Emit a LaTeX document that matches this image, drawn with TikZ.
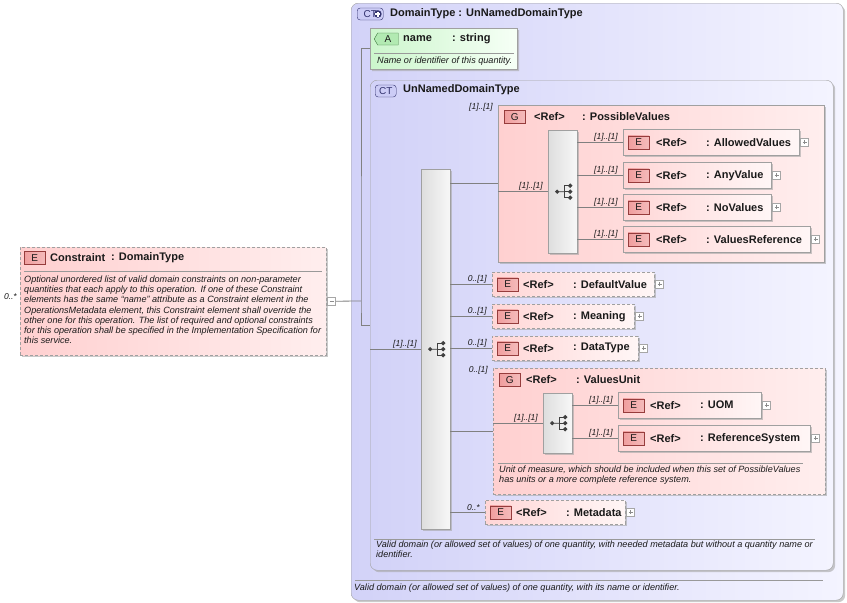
\documentclass[tikz,border=0pt]{standalone}
\usepackage{fontspec}
\setmainfont{Liberation Sans}
\usetikzlibrary{positioning,shadows,shapes.misc,shapes.symbols}

\definecolor{ctleft}{RGB}{210,210,248}
\definecolor{ctright}{RGB}{244,244,255}
\definecolor{elleft}{RGB}{255,214,214}
\definecolor{elright}{RGB}{255,246,246}
\definecolor{grleft}{RGB}{255,208,208}
\definecolor{grright}{RGB}{255,238,238}
\definecolor{atleft}{RGB}{204,246,204}
\definecolor{atright}{RGB}{246,255,246}
\definecolor{ebadge}{RGB}{240,158,158}
\definecolor{ebadgeline}{RGB}{150,60,60}
\definecolor{ctbadge}{RGB}{204,204,246}
\definecolor{ctbadgeline}{RGB}{50,50,110}
\definecolor{abadge}{RGB}{178,234,178}
\definecolor{abadgeline}{RGB}{60,120,60}
\definecolor{boxline}{RGB}{160,160,160}
\definecolor{wireline}{RGB}{128,128,128}
\definecolor{textcol}{RGB}{26,26,26}

\begin{document}
\begin{tikzpicture}
[x=1pt,y=-1pt,
  shadowdecorate/.style={drop shadow={shadow xshift=2pt,shadow yshift=-2pt,fill=black!35,opacity=0.6}},%
  ctdecorate/.style={anchor=north west,inner sep=0,rounded corners=7pt,draw=boxline,
    left color=ctleft,right color=ctright,shadowdecorate},%
  attrdecorate/.style={anchor=north west,inner sep=0,chamfered rectangle,
    chamfered rectangle corners={north west,south west},chamfered rectangle xsep=4pt,
    chamfered rectangle ysep=4pt,draw=boxline,left color=atleft,right color=atright,shadowdecorate},%
  elemdecorate/.style={anchor=north west,inner sep=0,draw=boxline,
    left color=elleft,right color=elright,shadowdecorate},%
  optdecorate/.style={elemdecorate,dash pattern=on 3pt off 2pt},%
  grpdecorate/.style={anchor=north west,inner sep=0,draw=boxline,
    left color=grleft,right color=grright,shadowdecorate},%
  seqdecorate/.style={anchor=north west,inner sep=0,draw=boxline,
    left color=black!13,right color=black!3,shadowdecorate},%
  badgedecorate/.style={anchor=west,draw=ebadgeline,left color=ebadge,right color=ebadge!70,
    minimum width=21,minimum height=13,inner sep=0,text=textcol,font=\fontsize{10}{11}\selectfont},%
  ctbadgedecorate/.style={anchor=west,draw=ctbadgeline,fill=ctbadge,rounded corners=3pt,
    minimum height=12,inner sep=0,text=ctbadgeline,font=\fontsize{10}{11}\selectfont},%
  abadgedecorate/.style={anchor=west,shape=signal,signal to=west,signal pointer angle=120,
    draw=abadgeline,fill=abadge,minimum width=24,minimum height=12,inner sep=0,
    text=textcol,font=\fontsize{10}{11}\selectfont},%
  titledecorate/.style={anchor=west,inner sep=0,text=textcol,font=\fontsize{11}{12}\selectfont\bfseries},%
  descdecorate/.style={inner sep=0,align=left,text=textcol,font=\fontsize{9.1}{10.1}\selectfont\itshape},%
  carddecorate/.style={inner sep=0,text=textcol,font=\fontsize{8.5}{10}\selectfont\itshape},%
  sepdecorate/.style={draw=black!40,line width=0.8pt},%
  wiredecorate/.style={draw=wireline,line width=0.8pt},%
  icondecorate/.style={draw=black!75,fill=black!75,line width=0.9pt},%
  plusdecorate/.style={anchor=west,draw=black!35,fill=white,minimum size=8,inner sep=0,
    path picture={\draw[black!45] ([xshift=2pt]path picture bounding box.west) --
      ([xshift=-2pt]path picture bounding box.east)
      ([yshift=2pt]path picture bounding box.south) --
      ([yshift=-2pt]path picture bounding box.north);}},%
  minusdecorate/.style={anchor=west,draw=black!35,fill=white,minimum size=8,inner sep=0,
    path picture={\draw[black!45] ([xshift=2pt]path picture bounding box.west) --
      ([xshift=-2pt]path picture bounding box.east);}}]
\useasboundingbox (0,0) rectangle (847,603);

%% outer complex type
\node (ctouter) at (351,3) [ctdecorate,minimum width=492,minimum height=597] {};
\node (ctouter-badge) at (357,14) [ctbadgedecorate,minimum width=26] {CT\hspace{8pt}};
\fill [ctbadgeline] ([xshift=-5.5pt]ctouter-badge.east) circle (3.8pt);
\draw [white,line width=1.2pt] ([xshift=-8pt]ctouter-badge.east) -- ([xshift=-3pt]ctouter-badge.east)
  ([xshift=-5.5pt,yshift=2.5pt]ctouter-badge.east) -- ([xshift=-5.5pt,yshift=-2.5pt]ctouter-badge.east);
\node (ctouter-title) at (390,14) [titledecorate] {DomainType : UnNamedDomainType};
\draw [sepdecorate] (355,580) -- (823,580);
\node (ctouter-desc) at (354,588) [descdecorate,anchor=west]
  {Valid domain (or allowed set of values) of one quantity, with its name or identifier.};

%% attribute
\node (attrname) at (370,28) [attrdecorate,minimum width=147,minimum height=41] {};
\node (attrname-badge) at (374,39) [abadgedecorate] {A};
\node (attrname-name) at (403,39) [titledecorate] {name};
\node (attrname-type) at (452,39) [titledecorate] {: string};
\draw [sepdecorate] (374,53) -- (514,53);
\node (attrname-desc) at (377,61) [descdecorate,anchor=west] {Name or identifier of this quantity.};

%% inner complex type
\node (ctinner) at (370,80) [ctdecorate,minimum width=463,minimum height=490] {};
\node (ctinner-badge) at (375,91) [ctbadgedecorate,minimum width=21] {CT};
\node (ctinner-title) at (403,90) [titledecorate] {UnNamedDomainType};
\draw [sepdecorate] (374,539) -- (815,539);
\node (ctinner-desc) at (376,541) [descdecorate,anchor=north west]
  {Valid domain (or allowed set of values) of one quantity, with needed metadata but without a quantity name or\\identifier.};

%% the element
\node (constraint) at (20,247) [optdecorate,left color=grleft,right color=grright,
  minimum width=306,minimum height=108] {};
\node (constraint-badge) at (24,258) [badgedecorate] {E};
\node (constraint-name) at (50,258) [titledecorate] {Constraint};
\node (constraint-type) at (111,258) [titledecorate] {: DomainType};
\draw [sepdecorate] (24,271) -- (322,271);
\node (constraint-desc) at (24,276) [descdecorate,anchor=north west]
  {Optional unordered list of valid domain constraints on non-parameter\\
   quantities that each apply to this operation. If one of these Constraint\\
   elements has the same “name” attribute as a Constraint element in the\\
   OperationsMetadata element, this Constraint element shall override the\\
   other one for this operation. The list of required and optional constraints\\
   for this operation shall be specified in the Implementation Specification for\\
   this service.};
\node (constraint-card) [carddecorate,above left=1pt and 3pt of constraint.west] {0..*};
\node (constraint-minus) at ([xshift=1pt]constraint.east) [minusdecorate] {};

%% edges into the type
\coordinate (hub) at (361,301);
\draw [wiredecorate] (constraint-minus.east) -- (hub);
\draw [wiredecorate] (attrname.west) -| (hub) |- (ctinner.west);

%% main sequence
\node (mainseq) at (421,169) [seqdecorate,minimum width=29,minimum height=360] {};
\node (mainseq-card) [carddecorate,above left=1pt and 4pt of mainseq.west] {[1]..[1]};
\draw [wiredecorate] (ctinner.west |- mainseq.west) -- (mainseq.west);

%% group PossibleValues
\node (pvgroup) at (498,105) [grpdecorate,minimum width=326,minimum height=157] {};
\node (pvgroup-card) at ([xshift=-5pt,yshift=2pt]pvgroup.north west) [carddecorate,anchor=north east] {[1]..[1]};
\node (pvgroup-badge) at ([xshift=6pt,yshift=-12pt]pvgroup.north west) [badgedecorate] {G};
\node (pvgroup-ref) at ([xshift=36pt,yshift=-12pt]pvgroup.north west) [titledecorate] {<Ref>};
\node (pvgroup-name) at ([xshift=84pt,yshift=-12pt]pvgroup.north west) [titledecorate] {: PossibleValues};
\draw [wiredecorate] (mainseq.east |- pvgroup.west) -- (pvgroup.west);
\node (pvseq) at (548,130) [seqdecorate,minimum width=29,minimum height=123] {};
\node (pvseq-card) [carddecorate,above left=1pt and 5pt of pvseq.west] {[1]..[1]};
\draw [wiredecorate] (pvgroup.west |- pvseq.west) -- (pvseq.west);
\foreach \nodename/\y/\w/\name in {allowed/129/176/AllowedValues, anyvalue/162/148/AnyValue,
  novalues/194/148/NoValues, valuesref/226/187/ValuesReference} {
  \node (\nodename) at (623,\y) [elemdecorate,minimum width=\w,minimum height=26] {};
  \node (\nodename-badge) at ([xshift=5pt]\nodename.west) [badgedecorate] {E};
  \node (\nodename-ref) at ([xshift=33pt]\nodename.west) [titledecorate] {<Ref>};
  \node (\nodename-name) at ([xshift=83pt]\nodename.west) [titledecorate] {: \name};
  \node (\nodename-plus) at ([xshift=1pt]\nodename.east) [plusdecorate] {};
  \node (\nodename-card) [carddecorate,above left=1pt and 5pt of \nodename.west] {[1]..[1]};
  \draw [wiredecorate] (pvseq.east |- \nodename.west) -- (\nodename.west);
}

%% optional elements of the main sequence
\foreach \nodename/\x/\y/\w/\name/\card in {defaultvalue/492/272/162/DefaultValue/0..[1],
  meaning/492/304/142/Meaning/0..[1], datatype/492/336/146/DataType/0..[1],
  metadata/485/500/140/Metadata/0..*} {
  \node (\nodename) at (\x,\y) [optdecorate,minimum width=\w,minimum height=24] {};
  \node (\nodename-badge) at ([xshift=5pt]\nodename.west) [badgedecorate] {E};
  \node (\nodename-ref) at ([xshift=31pt]\nodename.west) [titledecorate] {<Ref>};
  \node (\nodename-name) at ([xshift=81pt]\nodename.west) [titledecorate] {: \name};
  \node (\nodename-plus) at ([xshift=1pt]\nodename.east) [plusdecorate] {};
  \node (\nodename-card) [carddecorate,above left=1pt and 5pt of \nodename.west] {\card};
  \draw [wiredecorate] (mainseq.east |- \nodename.west) -- (\nodename.west);
}

%% group ValuesUnit
\node (vugroup) at (493,368) [grpdecorate,dash pattern=on 3pt off 2pt,minimum width=332,minimum height=126] {};
\node (vugroup-card) at ([xshift=-5pt,yshift=2pt]vugroup.north west) [carddecorate,anchor=north east] {0..[1]};
\node (vugroup-badge) at ([xshift=6pt,yshift=-12pt]vugroup.north west) [badgedecorate] {G};
\node (vugroup-ref) at ([xshift=33pt,yshift=-12pt]vugroup.north west) [titledecorate] {<Ref>};
\node (vugroup-name) at ([xshift=83pt,yshift=-12pt]vugroup.north west) [titledecorate] {: ValuesUnit};
\draw [wiredecorate] (mainseq.east |- vugroup.west) -- (vugroup.west);
\draw [sepdecorate] (498,463) -- (803,463);
\node (vugroup-desc) at (499,466) [descdecorate,anchor=north west]
  {Unit of measure, which should be included when this set of PossibleValues\\
   has units or a more complete reference system.};
\node (vuseq) at (543,393) [seqdecorate,minimum width=29,minimum height=60] {};
\node (vuseq-card) [carddecorate,above left=1pt and 5pt of vuseq.west] {[1]..[1]};
\draw [wiredecorate] (vugroup.west |- vuseq.west) -- (vuseq.west);
\foreach \nodename/\y/\w/\name in {uom/392/143/UOM, refsystem/425/192/ReferenceSystem} {
  \node (\nodename) at (618,\y) [elemdecorate,minimum width=\w,minimum height=26] {};
  \node (\nodename-badge) at ([xshift=5pt]\nodename.west) [badgedecorate] {E};
  \node (\nodename-ref) at ([xshift=32pt]\nodename.west) [titledecorate] {<Ref>};
  \node (\nodename-name) at ([xshift=82pt]\nodename.west) [titledecorate] {: \name};
  \node (\nodename-plus) at ([xshift=1pt]\nodename.east) [plusdecorate] {};
  \node (\nodename-card) [carddecorate,above left=1pt and 5pt of \nodename.west] {[1]..[1]};
  \draw [wiredecorate] (vuseq.east |- \nodename.west) -- (\nodename.west);
}

%% sequence icons
\foreach \seqname in {mainseq,pvseq,vuseq} {
  \draw [icondecorate] ([xshift=-5.5pt]\seqname.center) circle (1.6pt)
    -- ([xshift=1.5pt]\seqname.center);
  \draw [icondecorate] ([xshift=1.5pt,yshift=6pt]\seqname.center) -- ([xshift=1.5pt,yshift=-6pt]\seqname.center);
  \foreach \dy in {-6,0,6} {
    \draw [icondecorate] ([xshift=1.5pt,yshift=\dy pt]\seqname.center) -- ([xshift=6pt,yshift=\dy pt]\seqname.center);
    \fill [icondecorate] ([xshift=7.5pt,yshift=\dy pt]\seqname.center) circle (1.7pt);
  }
}
\end{tikzpicture}
\end{document}
